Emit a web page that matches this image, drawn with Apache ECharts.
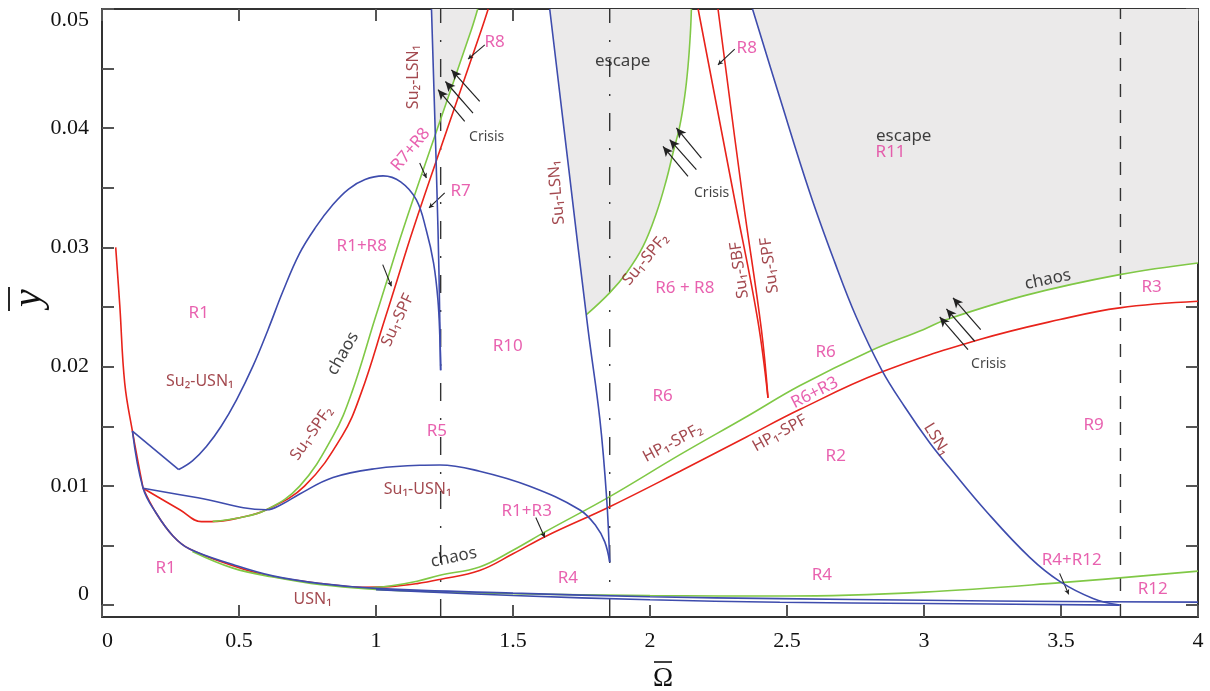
<!DOCTYPE html>
<html><head><meta charset="utf-8">
<script src="https://cdn.jsdelivr.net/npm/echarts@6/dist/echarts.min.js"></script>
<style>html,body{margin:0;padding:0;background:#fff}#c{width:1210px;height:691px}</style>
</head><body><div id="c"></div>
<script>
// ---------- axes ----------
const X_MIN = 0, X_MAX = 4, Y_MIN = -0.001, Y_MAX = 0.05;
const xTickValues = [0, 0.5, 1, 1.5, 2, 2.5, 3, 3.5, 4];
const xTickLabels = ['0', '0.5', '1', '1.5', '2', '2.5', '3', '3.5', '4'];
const yTickValues = [0, 0.005, 0.01, 0.015, 0.02, 0.025, 0.03, 0.035, 0.04, 0.045, 0.05];
const yLabelValues = [0, 0.01, 0.02, 0.03, 0.04, 0.05];
const yTickLabels = ['0', '0.01', '0.02', '0.03', '0.04', '0.05'];

// ---------- curves (Omega, y) ----------
const redR1 = [[0.05,0.030],[0.065,0.0251],[0.083,0.0186],[0.111,0.0146],[0.15,0.0098]];
const redSu1SPF = [[0.15,0.0098],[0.284,0.0080],[0.363,0.0070],[0.40,0.0070],[0.5026,0.00733],[0.6,0.0080],[0.739,0.00998],[0.8759,0.01417],[0.946,0.0178],[1.0318,0.02395],[1.0701,0.02674],[1.135,0.03149],[1.2591,0.03987],[1.3847,0.04826],[1.4095,0.05]];
const redHP1SPF = [[0.15,0.0098],[0.198,0.0077],[0.259,0.0058],[0.32,0.0047],[0.478,0.0033],[0.6,0.0025],[0.8,0.0018],[0.95,0.0015],[1.05,0.00155],[1.15,0.0018],[1.233,0.00215],[1.378,0.0029],[1.5,0.0043],[1.622,0.0058],[1.853,0.00825],[2.108,0.0112],[2.352,0.0141],[2.546,0.0164],[2.838,0.01948],[3.203,0.02227],[3.496,0.02395],[3.714,0.02493],[4.0,0.02548]];
const redSu1SBF = [[2.1756,0.05],[2.309,0.034],[2.393,0.02395],[2.4307,0.01738]];
const redSu1SPF2 = [[2.2482,0.05],[2.3394,0.034],[2.4066,0.0231],[2.4307,0.01738]];

const greenSu1SPF2Left = [[0.404,0.00702],[0.5026,0.00733],[0.6,0.0080],[0.7215,0.00998],[0.843,0.01417],[0.9113,0.0178],[0.9953,0.02395],[1.0336,0.02674],[1.0985,0.03149],[1.2226,0.03987],[1.348,0.04826],[1.3712,0.05]];
const greenSu1SPF2Mid = [[1.768,0.02436],[1.8526,0.02619],[1.9139,0.02786],[1.9745,0.03009],[2.0234,0.03289],[2.0599,0.03568],[2.0839,0.03792],[2.1084,0.04015],[2.1266,0.04267],[2.1387,0.04518],[2.1474,0.04798],[2.1511,0.05]];
const greenHP1SPF2 = [[0.95,0.00142],[1.05,0.0016],[1.15,0.0020],[1.233,0.0025],[1.378,0.0032],[1.5,0.0046],[1.622,0.0062],[1.853,0.0091],[2.108,0.0126],[2.352,0.0158],[2.546,0.0184],[2.802,0.0213],[2.997,0.0231],[3.082,0.02395],[3.374,0.0260],[3.714,0.02772],[4.0,0.0287]];
const greenLower = [[0.33,0.0045],[0.478,0.0031],[0.624,0.00235],[0.8,0.0017],[1.0,0.00132],[1.16,0.00117],[1.5,0.00095],[2.0,0.0008],[2.5,0.00076],[3.0,0.00109],[3.5,0.00188],[4.0,0.00285]];

const blueSu2USN1a = [[0.111,0.0146],[0.28,0.01137]];
const blueSu2USN1b = [[0.28,0.01137],[0.33,0.0121],[0.381,0.0133],[0.435,0.0150],[0.4905,0.0172],[0.55,0.0200],[0.606,0.0231],[0.66,0.0263],[0.721,0.0295],[0.78,0.0317],[0.843,0.0336],[0.90,0.0349],[0.96,0.0357],[1.026,0.0360],[1.09,0.0355],[1.147,0.0340],[1.184,0.0314],[1.21,0.0287],[1.226,0.0256],[1.233,0.0225],[1.236,0.0197]];
const blueSu2LSN1 = [[1.2025,0.05],[1.2263,0.0315],[1.236,0.0197]];
const blueSu1USN1 = [[0.15,0.0098],[0.35,0.0090],[0.6,0.0080],[0.66,0.0085],[0.72,0.0093],[0.843,0.0107],[1.003,0.01146],[1.16,0.01173],[1.233,0.01175],[1.378,0.01123],[1.561,0.00997],[1.743,0.0080],[1.804,0.0066],[1.835,0.0053],[1.853,0.0036]];
const blueSu1LSN1 = [[1.634,0.05],[1.704,0.0365],[1.774,0.0231],[1.817,0.0156],[1.842,0.0089],[1.853,0.0036]];
const blueLSN1 = [[2.3741,0.05],[2.4727,0.04264],[2.5821,0.03468],[2.6734,0.02881],[2.7536,0.02412],[2.8449,0.01976],[2.9288,0.01666],[3.0201,0.01364],[3.0931,0.01154],[3.2277,0.00785],[3.3858,0.0040],[3.4953,0.00199],[3.6168,0.00056],[3.7142,0.0]];
const blueUSN1 = [[0.111,0.0146],[0.15,0.0098],[0.198,0.0077],[0.259,0.0058],[0.32,0.0047],[0.478,0.0034],[0.623,0.00245],[0.8,0.0018],[1.0,0.0014],[1.5,0.0010],[2.0,0.0007],[2.474,0.00054],[3.0,0.0004],[3.5,0.0003],[4.0,0.00025]];
const blueBottom = [[1.0,0.0013],[1.5,0.0008],[2.0,0.00045],[2.474,0.00024],[3.0,0.00013],[3.714,0.0]];

// vertical reference lines (Omega values)
const dashDotLines = [1.236, 1.853];
const dashedLines = [3.717];

// Crisis arrows: [tail, head]
const crisisArrows = [
  [[1.3237,0.04057],[1.2263,0.04323]],[[1.3540,0.04127],[1.2533,0.04392]],[[1.3785,0.04225],[1.2752,0.04490]],
  [[2.1387,0.03596],[2.0474,0.03847]],[[2.1693,0.03652],[2.0719,0.03904]],[[2.1876,0.03750],[2.0963,0.04002]],
  [[3.1606,0.02143],[3.0573,0.02417]],[[3.1850,0.02213],[3.0818,0.02484]],[[3.2069,0.02311],[3.1058,0.02577]]
];
// small curved pointers: [from, to, curveness]
const pointerArrows = [
  [[1.397,0.04699],[1.336,0.04580],-0.45],
  [[1.1595,0.03708],[1.184,0.03582],-0.5],
  [[1.2507,0.03457],[1.1934,0.03331],-0.4],
  [[2.3092,0.04664],[2.248,0.04532],-0.45],
  [[1.0245,0.02856],[1.0562,0.02674],-0.4],
  [[1.5832,0.00735],[1.6157,0.00567],-0.4],
  [[3.495,0.00266],[3.528,0.0009],-0.4]
];

// annotations: [Omega, y, text, rotation, kind]  kind: m=region, d=curve name, k=black, c=crisis
const annotations = [
  [1.138,0.0443,'Su\u2082-LSN\u2081',90,'d'],
  [1.433,0.0472,'R8',0,'m'],
  [1.1267,0.0382,'R7+R8',50,'m'],
  [1.309,0.0347,'R7',0,'m'],
  [1.404,0.0393,'Crisis',0,'c'],
  [1.9004,0.0456,'escape',0,'k'],
  [1.659,0.0346,'Su\u2081-LSN\u2081',95,'d'],
  [1.984,0.0290,'Su\u2081-SPF\u2082',50,'d'],
  [2.127,0.0266,'R6 + R8',0,'m'],
  [2.327,0.0281,'Su\u2081-SBF',98,'d'],
  [2.4365,0.0285,'Su\u2081-SPF',98,'d'],
  [2.353,0.0467,'R8',0,'m'],
  [2.225,0.0346,'Crisis',0,'c'],
  [2.926,0.0393,'escape',0,'k'],
  [2.878,0.0380,'R11',0,'m'],
  [3.452,0.0273,'chaos',12,'k'],
  [3.831,0.0267,'R3',0,'m'],
  [3.236,0.0202,'Crisis',0,'c'],
  [2.641,0.0212,'R6',0,'m'],
  [2.601,0.0178,'R6+R3',27,'m'],
  [2.473,0.0144,'HP\u2081-SPF',29,'d'],
  [2.083,0.0136,'HP\u2081-SPF\u2082',28,'d'],
  [2.678,0.0125,'R2',0,'m'],
  [3.046,0.0139,'LSN\u2081',-58,'d'],
  [3.619,0.0151,'R9',0,'m'],
  [3.539,0.0038,'R4+R12',0,'m'],
  [3.835,0.0013,'R12',0,'m'],
  [2.627,0.0025,'R4',0,'m'],
  [1.700,0.0023,'R4',0,'m'],
  [1.550,0.0079,'R1+R3',0,'m'],
  [1.284,0.0040,'chaos',12,'k'],
  [1.152,0.0097,'Su\u2081-USN\u2081',0,'d'],
  [1.222,0.0146,'R5',0,'m'],
  [1.4807,0.0217,'R10',0,'m'],
  [2.046,0.0175,'R6',0,'m'],
  [0.353,0.0245,'R1',0,'m'],
  [0.948,0.0301,'R1+R8',0,'m'],
  [1.079,0.0239,'Su\u2081-SPF',65,'d'],
  [0.879,0.0211,'chaos',60,'k'],
  [0.357,0.0188,'Su\u2082-USN\u2081',0,'d'],
  [0.765,0.0144,'Su\u2081-SPF\u2082',55,'d'],
  [0.232,0.0031,'R1',0,'m'],
  [0.769,0.0005,'USN\u2081',0,'d']
];

// ---------- styling ----------
const BLUE = '#3e4cad', RED = '#e8231b', GREEN = '#80c846', GRAY = '#ebeaea';
const MAG = '#e2399b', DARK = '#8c1c23', INK = '#222';
const LABEL_FONT = '"Noto Sans", "DejaVu Sans", sans-serif';
const SERIF = '"Liberation Serif", "DejaVu Serif", serif';

// ---------- helpers ----------
function segInt(p1, p2, p3, p4) {
  const d = (p2[0]-p1[0])*(p4[1]-p3[1]) - (p2[1]-p1[1])*(p4[0]-p3[0]);
  if (Math.abs(d) < 1e-15) return null;
  const t = ((p3[0]-p1[0])*(p4[1]-p3[1]) - (p3[1]-p1[1])*(p4[0]-p3[0])) / d;
  const u = ((p3[0]-p1[0])*(p2[1]-p1[1]) - (p3[1]-p1[1])*(p2[0]-p1[0])) / d;
  if (t >= 0 && t <= 1 && u >= 0 && u <= 1) return [p1[0]+t*(p2[0]-p1[0]), p1[1]+t*(p2[1]-p1[1])];
  return null;
}
function crossing(a, b) {
  for (let i = 0; i < a.length-1; i++)
    for (let j = 0; j < b.length-1; j++) {
      const p = segInt(a[i], a[i+1], b[j], b[j+1]);
      if (p) return {pt: p, i, j};
    }
  return null;
}
function regionBetween(a, b, extra) {
  const c = crossing(a, b);
  return a.slice(0, c.i+1).concat([c.pt], b.slice(c.j+1), extra || []);
}
const escapeRegions = [
  regionBetween(blueSu2LSN1, greenSu1SPF2Left),
  blueSu1LSN1.filter(p => p[1] >= greenSu1SPF2Mid[0][1]).concat(greenSu1SPF2Mid),
  regionBetween(blueLSN1, greenHP1SPF2, [[X_MAX, Y_MAX]])
];

function curve(data, color, z, smooth) {
  return {type:'line', data, showSymbol:false, symbol:'none', smooth: smooth === undefined ? 0.4 : smooth,
    lineStyle:{color, width:1.6}, z, silent:true, animation:false};
}
function vline(x, type) {
  return {type:'line', data:[[x, Y_MIN],[x, Y_MAX]], showSymbol:false, symbol:'none',
    lineStyle:{color:'#333', width:1.4, type}, z:2, silent:true, animation:false};
}

const kindStyle = {
  m: {color: MAG, fontSize: 17},
  d: {color: DARK, fontSize: 16},
  k: {color: '#111', fontSize: 17},
  c: {color: '#111', fontSize: 14}
};

const series = [];
series.push({
  type:'custom', coordinateSystem:'cartesian2d', clip:true, silent:true, z:1, animation:false,
  data: escapeRegions.map((r, i) => i),
  renderItem: (params, api) => ({
    type:'polygon',
    shape:{points: escapeRegions[params.dataIndex].map(p => api.coord(p))},
    style:{fill: GRAY}
  })
});
dashDotLines.forEach(x => series.push(vline(x, [18, 17, 2, 17])));
dashedLines.forEach(x => series.push(vline(x, [13, 13])));

[redR1, redSu1SPF, redHP1SPF, redSu1SBF, redSu1SPF2].forEach(d => series.push(curve(d, RED, 3)));
[greenSu1SPF2Left, greenSu1SPF2Mid, greenHP1SPF2, greenLower].forEach(d => series.push(curve(d, GREEN, 4)));
[blueSu2USN1a, blueSu2USN1b, blueSu2LSN1, blueSu1USN1, blueSu1LSN1, blueLSN1, blueUSN1, blueBottom]
  .forEach(d => series.push(curve(d, BLUE, 5)));

// arrows
series.push({
  type:'line', data:[], z:6, silent:true, animation:false,
  markLine:{
    silent:true, animation:false, label:{show:false},
    data: crisisArrows.map(a => [
      {coord:a[0], symbol:'none', lineStyle:{color:INK, width:1.2, type:'solid'}},
      {coord:a[1], symbol:'arrow', symbolSize:[7, 10]}
    ]).concat(pointerArrows.map(a => [
      {coord:a[0], symbol:'none', lineStyle:{color:INK, width:1.1, type:'solid', curveness:a[2]}},
      {coord:a[1], symbol:'arrow', symbolSize:[4, 5]}
    ]))
  }
});

// annotation labels
series.push({
  type:'scatter', symbolSize:0, z:8, silent:true, animation:false,
  data: annotations.map(a => ({
    value:[a[0], a[1]],
    label:{show:true, position:'inside', formatter:a[2], rotate:a[3],
      color: kindStyle[a[4]].color, fontSize: kindStyle[a[4]].fontSize, fontFamily: LABEL_FONT}
  }))
});

const axisLineStyle = {color:'#333', width:2};
const tickStyle = {color:'#555', width:2};
const xLabelFmt = v => { const i = xTickValues.findIndex(t => Math.abs(t - v) < 1e-9); return i >= 0 ? xTickLabels[i] : ''; };
const yLabelFmt = v => { const i = yLabelValues.findIndex(t => Math.abs(t - v) < 1e-9); return i >= 0 ? yTickLabels[i] : ''; };

const option = {
  backgroundColor:'#fff',
  animation:false,
  grid:{left:102, right:12, top:9, bottom:74, containLabel:false},
  xAxis:[
    {type:'value', min:X_MIN, max:X_MAX, interval:0.5, position:'bottom',
     axisLine:{show:true, onZero:false, lineStyle:axisLineStyle},
     axisTick:{show:true, inside:true, length:12, lineStyle:tickStyle},
     axisLabel:{show:true, formatter:xLabelFmt, fontFamily:SERIF, fontSize:22, color:'#111', margin:13, alignMinLabel:'left'},
     splitLine:{show:false}},
    {type:'value', min:X_MIN, max:X_MAX, interval:0.5, position:'top',
     axisLine:{show:true, onZero:false, lineStyle:axisLineStyle},
     axisTick:{show:true, inside:true, length:12, lineStyle:tickStyle},
     axisLabel:{show:false}, splitLine:{show:false}}
  ],
  yAxis:[
    {type:'value', min:Y_MIN, max:Y_MAX, position:'left',
     axisLine:{show:true, onZero:false, lineStyle:axisLineStyle},
     axisTick:{show:true, inside:true, length:12, lineStyle:tickStyle, customValues:yTickValues},
     axisLabel:{show:true, customValues:yLabelValues, formatter:yLabelFmt, fontFamily:SERIF, fontSize:22, color:'#111', margin:13,
       verticalAlignMinLabel:'bottom', verticalAlignMaxLabel:'top'},
     splitLine:{show:false}},
    {type:'value', min:Y_MIN, max:Y_MAX, position:'right',
     axisLine:{show:true, onZero:false, lineStyle:axisLineStyle},
     axisTick:{show:true, inside:true, length:12, lineStyle:tickStyle, customValues:yTickValues},
     axisLabel:{show:false}, splitLine:{show:false}}
  ],
  graphic:[
    {type:'text', x:663, y:679, style:{text:'\u03A9', font:'27px "Liberation Serif", serif', fill:'#111', align:'center', verticalAlign:'middle'}},
    {type:'line', shape:{x1:654, y1:662, x2:672, y2:662}, style:{stroke:'#111', lineWidth:1.6}},
    {type:'text', x:29, y:298, rotation:Math.PI/2, style:{text:'y', font:'italic 40px "Liberation Serif", serif', fill:'#111', align:'center', verticalAlign:'middle'}},
    {type:'line', shape:{x1:9, y1:287, x2:9, y2:311}, style:{stroke:'#111', lineWidth:1.8}}
  ],
  series
};
const chart = echarts.init(document.getElementById('c'));
chart.setOption(option);
</script>
</body></html>
